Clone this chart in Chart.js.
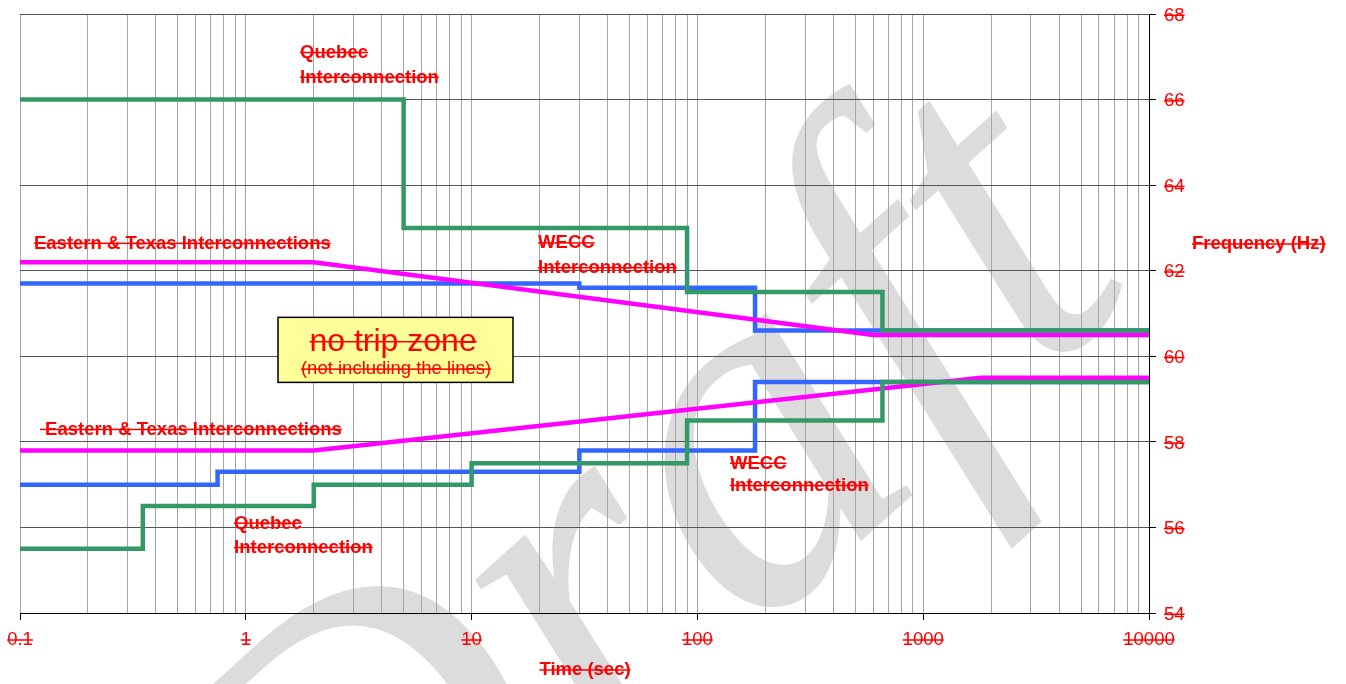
<!DOCTYPE html>
<html>
<head>
<meta charset="utf-8">
<script src="https://cdn.jsdelivr.net/npm/chart.js@4.4.1/dist/chart.umd.min.js"></script>
<style>
  html, body { margin: 0; padding: 0; background: #fff; }
  #wrap { width: 1346px; height: 684px; position: relative; }
</style>
</head>
<body>
<div id="wrap"><canvas id="freqChart"></canvas></div>
<script>
// --- DATA (time in seconds, frequency in Hz) ---
const xTickValues = [0.1, 1, 10, 100, 1000, 10000];
const xTickLabels = ['0.1', '1', '10', '100', '1000', '10000'];
const yTickLabels = ['54', '56', '58', '60', '62', '64', '66', '68'];

// Quebec Interconnection (green)
const quebecHighTimes = [0.1, 5, 90, 660, 10000];
const quebecHighFreq  = [66, 63, 61.5, 60.6, 60.6];
const quebecLowTimes  = [0.1, 0.35, 2, 10, 90, 660, 10000];
const quebecLowFreq   = [55.5, 56.5, 57.0, 57.5, 58.5, 59.4, 59.4];

// Eastern & Texas Interconnections (magenta)
const easternHighTimes = [0.1, 2, 600, 10000];
const easternHighFreq  = [62.2, 62.2, 60.5, 60.5];
const easternLowTimes  = [0.1, 2, 1800, 10000];
const easternLowFreq   = [57.8, 57.8, 59.5, 59.5];

// WECC Interconnection (blue)
const weccHighTimes = [0.1, 30, 180, 10000];
const weccHighFreq  = [61.7, 61.6, 60.6, 60.6];
const weccLowTimes  = [0.1, 0.75, 30, 180, 10000];
const weccLowFreq   = [57.0, 57.3, 57.8, 59.4, 59.4];

// text labels inside the plot, anchored in data units (time, freq)
const curveLabels = [
  { text: 'Quebec', t: 1.74, f: 67.10 },
  { text: 'Interconnection', t: 1.74, f: 66.52 },
  { text: 'Eastern & Texas Interconnections', t: 0.1153, f: 62.64 },
  { text: 'WECC', t: 19.7, f: 62.65 },
  { text: 'Interconnection', t: 19.7, f: 62.07 },
  { text: ' Eastern & Texas Interconnections', t: 0.1226, f: 58.29 },
  { text: 'Quebec', t: 0.887, f: 56.10 },
  { text: 'Interconnection', t: 0.887, f: 55.53 },
  { text: 'WECC', t: 139.4, f: 57.50 },
  { text: 'Interconnection', t: 139.4, f: 56.98 }
];
const zoneBox = { t0: 1.389, t1: 15.25, f0: 59.39, f1: 60.91 };
const zoneTitle = { text: 'no trip zone', t: 4.49, f: 60.34 };
const zoneNote = { text: '(not including the lines)', t: 4.63, f: 59.70 };

const RED = '#ff0000';
const GREEN = '#339966';
const MAGENTA = '#ff00ff';
const BLUE = '#3366ff';

function toPoints(times, freqs) {
    return times.map((t, i) => ({ x: t, y: freqs[i] }));
}

// minor grid: 1..9 per decade
const xGridTicks = [];
for (let d = 0; d < xTickValues.length - 1; d++) {
    for (let k = 1; k <= 9; k++) xGridTicks.push(+(xTickValues[d] * k).toPrecision(3));
}
xGridTicks.push(xTickValues[xTickValues.length - 1]);

// canvas has no text-decoration, so strike through by hand
function struckText(ctx, text, x, y, size, bold, align) {
    ctx.save();
    ctx.font = (bold ? 'bold ' : '') + size + 'px "Liberation Sans", Arial, sans-serif';
    ctx.fillStyle = RED;
    ctx.textAlign = align || 'left';
    ctx.textBaseline = 'alphabetic';
    ctx.fillText(text, x, y + size * 0.29);
    const w = ctx.measureText(text).width;
    const x0 = align === 'center' ? x - w / 2 : (align === 'right' ? x - w : x);
    ctx.fillRect(x0, y - 0.75, w, 1.5);
    ctx.restore();
}

const draftPlugin = {
    id: 'draft',
    beforeDraw(chart) {
        const ctx = chart.ctx;
        ctx.save();
        ctx.fillStyle = '#fff';
        ctx.fillRect(0, 0, chart.width, chart.height);
        ctx.translate(740, 650);
        ctx.rotate(-42 * Math.PI / 180);
        ctx.font = 'italic 500px "Liberation Serif", serif';
        ctx.fillStyle = '#dcdcdc';
        ctx.textAlign = 'center';
        ctx.textBaseline = 'alphabetic';
        ctx.fillText('Draft', 0, 0);
        ctx.restore();
    }
};

const textPlugin = {
    id: 'texts',
    afterDatasetsDraw(chart) {
        const ctx = chart.ctx;
        const xs = chart.scales.x, ys = chart.scales.y;
        // no trip zone box
        const bx0 = xs.getPixelForValue(zoneBox.t0), bx1 = xs.getPixelForValue(zoneBox.t1);
        const by0 = ys.getPixelForValue(zoneBox.f1), by1 = ys.getPixelForValue(zoneBox.f0);
        ctx.save();
        ctx.fillStyle = '#ffff99';
        ctx.fillRect(bx0, by0, bx1 - bx0, by1 - by0);
        ctx.strokeStyle = '#000';
        ctx.lineWidth = 1.5;
        ctx.strokeRect(bx0, by0, bx1 - bx0, by1 - by0);
        ctx.restore();
        struckText(ctx, zoneTitle.text, xs.getPixelForValue(zoneTitle.t), ys.getPixelForValue(zoneTitle.f), 32, false, 'center');
        struckText(ctx, zoneNote.text, xs.getPixelForValue(zoneNote.t), ys.getPixelForValue(zoneNote.f), 18.5, false, 'center');
        curveLabels.forEach(l => {
            struckText(ctx, l.text, xs.getPixelForValue(l.t), ys.getPixelForValue(l.f), 18.5, true, 'left');
        });
    },
    afterDraw(chart) {
        const ctx = chart.ctx;
        const xs = chart.scales.x, ys = chart.scales.y;
        xTickValues.forEach((v, i) => {
            struckText(ctx, xTickLabels[i], xs.getPixelForValue(v), 640, 18.5, false, 'center');
        });
        yTickLabels.forEach(lbl => {
            struckText(ctx, lbl, 1164, ys.getPixelForValue(+lbl) + 1.3, 18.5, false, 'left');
        });
        struckText(ctx, 'Frequency (Hz)', 1192, 244, 18.5, true, 'left');
        struckText(ctx, 'Time (sec)', 585, 670, 18.5, true, 'center');
    }
};

function lineSet(label, times, freqs, color, stepped) {
    return {
        label: label,
        data: toPoints(times, freqs),
        borderColor: color,
        backgroundColor: color,
        borderWidth: 4.5,
        pointRadius: 0,
        fill: false,
        stepped: stepped,
        tension: 0,
        borderJoinStyle: 'miter',
        borderCapStyle: 'butt'
    };
}

const ctx = document.getElementById('freqChart').getContext('2d');
const freqChart = new Chart(ctx, {
    type: 'line',
    data: {
        datasets: [
            lineSet('Quebec high', quebecHighTimes, quebecHighFreq, GREEN, 'before'),
            lineSet('Quebec low', quebecLowTimes, quebecLowFreq, GREEN, 'before'),
            lineSet('Eastern high', easternHighTimes, easternHighFreq, MAGENTA, false),
            lineSet('Eastern low', easternLowTimes, easternLowFreq, MAGENTA, false),
            lineSet('WECC high', weccHighTimes, weccHighFreq, BLUE, 'before'),
            lineSet('WECC low', weccLowTimes, weccLowFreq, BLUE, 'before')
        ]
    },
    options: {
        responsive: true,
        maintainAspectRatio: false,
        animation: false,
        layout: { padding: { left: 20, top: 14, right: 0, bottom: 0 } },
        plugins: { legend: { display: false }, tooltip: { enabled: false } },
        scales: {
            x: {
                type: 'logarithmic',
                position: 'bottom',
                min: 0.1,
                max: 10000,
                afterBuildTicks: (scale) => {
                    scale.ticks = xGridTicks.map(v => ({ value: v }));
                },
                afterFit: (scale) => { scale.height = 71; },
                ticks: { display: false },
                grid: {
                    color: '#a6a6a6',
                    lineWidth: 1,
                    tickLength: 7,
                    tickColor: (c) => xTickValues.includes(c.tick && c.tick.value) ? '#000' : 'rgba(0,0,0,0)'
                },
                border: { display: true, color: '#000', width: 1 }
            },
            y: {
                type: 'linear',
                position: 'right',
                min: 54,
                max: 68,
                afterFit: (scale) => { scale.width = 197; },
                ticks: { display: false, stepSize: 2 },
                grid: { color: '#555', lineWidth: 1, tickLength: 7, tickColor: '#000' },
                border: { display: true, color: '#000', width: 1 }
            }
        }
    },
    plugins: [draftPlugin, textPlugin]
});
</script>
</body>
</html>
